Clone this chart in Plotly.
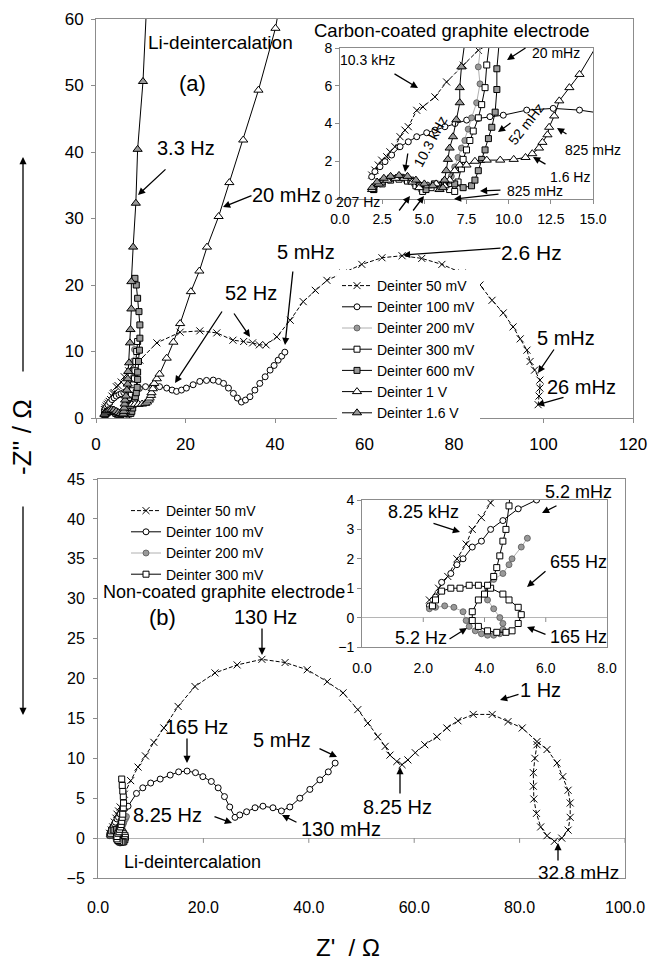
import plotly.graph_objects as go

W, H = 650, 964
FONT = "Liberation Sans, Arial, sans-serif"

# ---------------- Panel (a): carbon-coated graphite ----------------
A50_X = [1.88, 2.07, 2.27, 2.47, 2.77, 2.96, 3.26, 3.56, 3.85, 4.05, 4.55, 4.92, 5.63, 6.32, 7.31, 8.2,
         9.8, 13.6, 18.8, 23.2, 27.0, 30.6, 33.0, 35.0, 36.5, 38.0, 40.4, 43.4, 46.3, 49.0, 51.6, 55.2,
         59.4, 63.9, 68.4, 72.8, 77.3, 81.8, 85.8, 88.5, 91.0, 93.2, 94.8, 96.3, 97.0, 98.0, 99.2, 99.2,
         99.0, 98.8]
A50_Y = [1.27, 1.53, 1.8, 2.06, 2.24, 2.5, 2.77, 3.3, 3.65, 3.83, 4.7, 4.88, 5.41, 6.2, 7.09, 7.88,
         8.7, 11.3, 12.9, 13.1, 12.8, 11.7, 11.5, 11.3, 11.0, 11.0, 12.2, 14.7, 17.5, 19.2, 20.7, 21.8,
         23.1, 24.1, 24.4, 24.0, 23.1, 21.8, 20.0, 17.7, 15.8, 13.7, 11.9, 10.2, 8.5, 7.2, 5.7, 4.5,
         3.3, 2.0]

A100_X = [1.88, 2.07, 2.37, 2.67, 3.06, 3.56, 4.05, 4.55, 5.14, 5.63, 6.22, 6.82, 7.51, 8.2, 8.89, 9.68,
          11.07, 12.64, 14.2, 15.8, 17.0, 18.0, 19.1, 20.2, 21.7, 23.2, 24.7, 26.2, 27.4, 28.5, 29.6,
          30.7, 31.6, 32.5, 33.4, 34.4, 35.5, 36.6, 37.8, 38.9, 39.8, 40.7, 41.5, 42.2]
A100_Y = [1.18, 1.45, 1.71, 1.98, 2.33, 2.77, 3.03, 3.3, 3.51, 3.65, 3.83, 4.0, 4.18, 4.27, 4.36, 4.44,
          4.71, 4.8, 4.71, 4.5, 4.2, 4.0, 4.2, 4.5, 5.0, 5.5, 5.65, 5.7, 5.5, 5.2, 4.5,
          3.7, 3.0, 2.4, 2.7, 3.2, 4.2, 5.2, 6.2, 7.2, 7.9, 8.7, 9.3, 9.9]

A200_X = [2.0, 2.4, 2.9, 3.4, 3.9, 4.4, 4.8, 5.3, 5.8, 6.3, 6.6, 6.8, 7.0, 7.2, 7.4, 7.6, 7.8, 8.1, 8.3, 8.2,
          8.4, 8.6]
A200_Y = [0.5, 0.8, 1.0, 1.1, 1.0, 0.8, 0.5, 0.7, 0.8, 0.8, 1.2, 1.7, 2.2, 2.7, 3.1, 3.7, 4.3, 5.1, 6.1, 7.0,
          8.6, 10.3]

A300_X = [2.0, 2.5, 3.0, 3.5, 4.0, 4.5, 4.9, 5.4, 6.0, 6.5, 6.8, 7.0, 7.2, 7.3, 7.5, 7.7, 7.9, 8.2, 8.4, 8.6,
          8.7, 8.9, 9.1, 9.3]
A300_Y = [0.5, 0.8, 1.0, 1.05, 0.95, 0.7, 0.4, 0.6, 0.7, 0.5, 0.4, 0.9, 1.6, 2.1, 2.6, 3.1, 3.6, 4.3, 5.0, 5.9,
          7.1, 8.5, 10.0, 11.5]

A600_X = [2.0, 2.5, 3.0, 3.6, 4.2, 4.7, 5.1, 5.6, 6.2, 6.8, 7.3, 7.8, 8.0, 8.2, 8.4, 8.6, 8.8, 9.0, 9.2, 9.3,
          9.3, 9.5, 9.7, 9.8, 9.8, 9.6, 9.3, 9.0, 8.7]
A600_Y = [0.5, 0.9, 1.1, 1.15, 1.0, 0.7, 0.5, 0.8, 0.9, 0.8, 0.6, 0.7, 1.0, 1.5, 2.1, 2.6, 3.2, 3.8, 4.6, 5.8,
          6.9, 8.5, 10.2, 12.0, 14.0, 16.0, 18.0, 20.0, 21.0]

A1V_X = [1.9, 2.3, 2.8, 3.3, 3.8, 4.3, 4.7, 5.2, 5.7, 6.2, 6.5, 6.8, 7.1, 7.5, 8.0, 8.7, 9.5, 10.3, 11.0,
         11.4, 11.8, 12.0, 12.3, 12.4, 12.7, 13.0, 13.6, 14.2, 15.8, 17.3, 18.8, 21.2, 23.1, 24.8, 27.4,
         29.8, 32.9, 36.3, 40.1, 41.0]
A1V_Y = [0.5, 0.8, 1.0, 1.1, 1.1, 0.9, 0.6, 0.7, 0.8, 0.7, 1.0, 1.5, 1.8, 1.8, 2.0, 2.06, 2.06, 2.1, 2.2,
         2.4, 2.7, 3.0, 3.4, 3.8, 4.4, 5.2, 5.9, 6.6, 9.0, 11.4, 14.2, 19.0, 22.1, 25.7, 30.3,
         35.4, 41.8, 49.3, 58.6, 62.0]

A16V_X = [1.9, 2.2, 2.6, 3.0, 3.5, 4.0, 4.5, 5.0, 5.5, 5.9, 6.1, 6.2, 6.3, 6.4, 6.5, 6.7, 6.9, 7.1, 7.1, 7.2,
          7.4, 7.6, 7.7, 7.9, 7.9, 8.3, 8.9, 9.3, 10.5, 11.3]
A16V_Y = [0.6, 0.9, 1.1, 1.2, 1.25, 1.2, 1.0, 0.8, 0.7, 0.5, 0.6, 1.0, 1.5, 2.1, 2.7, 3.3, 4.2, 5.1, 5.9, 7.0,
          8.3, 11.3, 13.3, 16.4, 20.5, 25.7, 32.3, 40.4, 50.6, 62.0]

# ---------------- Panel (b): non-coated graphite ----------------
B50_X = [2.2, 2.5, 2.8, 3.1, 3.4, 3.6, 3.9, 4.2, 5.0, 6.2, 7.6, 9.0, 10.6, 12.5, 15.2, 18.4, 22.2, 26.4,
         31.1, 35.5, 39.7, 43.5, 46.5, 49.3, 51.2, 53.1, 54.5, 55.4, 56.7, 57.7, 58.8, 60.2, 62.0, 64.3,
         66.2, 68.3, 71.2, 74.8, 77.8, 80.5, 83.3, 85.2, 87.1, 88.2, 89.2, 89.6, 89.6, 89.2, 88.0, 86.6,
         85.2, 84.0, 83.2, 82.7, 82.6, 82.6, 82.9, 83.3]
B50_Y = [0.6, 1.0, 1.4, 2.0, 2.5, 3.0, 3.4, 3.9, 5.5, 7.2, 8.9, 10.3, 12.0, 13.8, 16.5, 19.0, 20.7, 21.7,
         22.4, 22.0, 21.1, 19.6, 18.2, 16.1, 14.4, 12.7, 11.5, 10.4, 9.6, 9.2, 9.8, 10.7, 11.7, 12.7,
         13.8, 14.7, 15.5, 15.5, 14.6, 13.8, 12.1, 11.1, 9.4, 7.7, 6.0, 4.4, 2.6, 1.0, 0.0, -0.4,
         0.3, 1.4, 3.1, 4.9, 6.5, 8.2, 10.0, 11.7]

B100_X = [2.2, 2.4, 2.6, 2.9, 3.1, 3.3, 3.6, 3.9, 4.2, 4.6, 5.1, 5.7, 7.3, 8.5, 10.0, 11.8, 13.7, 15.3, 16.9,
          18.5, 19.9, 21.5, 22.8, 24.0, 25.0, 26.0, 26.9, 28.2, 29.8, 31.3, 33.2, 34.8, 36.4, 38.3, 40.2,
          42.1, 43.7, 45.0]
B100_Y = [0.4, 0.7, 1.2, 1.5, 1.8, 2.0, 2.4, 2.6, 3.0, 3.3, 3.7, 4.0, 5.6, 6.3, 6.9, 7.4, 7.9, 8.3, 8.4,
          8.2, 7.7, 7.1, 6.3, 5.2, 3.9, 2.6, 2.9, 3.3, 3.8, 4.0, 3.8, 3.4, 3.9, 5.0, 6.1,
          7.3, 8.3, 9.4]

B200_X = [2.2, 2.4, 2.7, 3.0, 3.3, 3.4, 3.5, 3.7, 3.9, 4.1, 4.3, 4.5, 4.6, 4.6, 4.5, 4.3, 4.1, 4.0, 4.1, 4.3,
          4.6, 4.8, 4.9, 5.2, 5.4]
B200_Y = [0.3, 0.35, 0.4, 0.35, 0.2, -0.1, -0.3, -0.45, -0.55, -0.6, -0.6, -0.55, -0.4, -0.2, 0.0, 0.3, 0.6,
          0.8, 1.0, 1.3, 1.5, 1.8, 2.0, 2.4, 2.7]

B300_X = [2.3, 2.4, 2.6, 2.9, 3.2, 3.5, 3.8, 4.2, 4.6, 4.8, 5.1, 5.2, 5.1, 4.9, 4.7, 4.4, 4.1, 3.8, 3.6, 3.6,
          3.8, 4.0, 4.1, 4.3, 4.4, 4.5, 4.6, 4.7, 4.8, 4.85, 4.8, 4.7, 4.6, 4.5]
B300_Y = [0.4, 0.6, 0.9, 1.0, 1.0, 1.1, 1.1, 1.0, 0.8, 0.6, 0.35, 0.1, -0.2, -0.45, -0.5, -0.5, -0.45, -0.3,
          -0.1, 0.2, 0.6, 0.8, 1.1, 1.4, 1.7, 2.1, 2.6, 3.0, 3.8, 4.4, 5.2, 5.9, 6.6, 7.4]

# ---------------- Axis ticks ----------------
PA_XTICKS = [0, 20, 40, 60, 80, 100, 120]
PA_YTICKS = [0, 10, 20, 30, 40, 50, 60]
IA_XTICKS = [0, 2.5, 5, 7.5, 10, 12.5, 15]
IA_YTICKS = [0, 2, 4, 6, 8]
PB_XTICKS = [0, 20, 40, 60, 80, 100]
PB_YTICKS = [-5, 0, 5, 10, 15, 20, 25, 30, 35, 40, 45]
IB_XTICKS = [0, 2, 4, 6, 8]
IB_YTICKS = [-1, 0, 1, 2, 3, 4]

GRAY = "#999999"
BOX = "#8c8c8c"


def fx(px):
    return px / W


def fy(py):
    return 1 - py / H


STYLES_A = [
    ("Deinter 50 mV", A50_X, A50_Y, dict(symbol="x-thin", size=7, color="black", line=dict(width=1, color="black")),
     dict(color="black", width=1, dash="4px,2px")),
    ("Deinter 100 mV", A100_X, A100_Y, dict(symbol="circle", size=6, color="white", line=dict(width=1, color="black")),
     dict(color="black", width=1)),
    ("Deinter 200 mV", A200_X, A200_Y, dict(symbol="circle", size=6, color=GRAY, line=dict(width=0.8, color="#555")),
     dict(color="#b0b0b0", width=1)),
    ("Deinter 300 mV", A300_X, A300_Y, dict(symbol="square", size=6, color="white", line=dict(width=1, color="black")),
     dict(color="black", width=1)),
    ("Deinter 600 mV", A600_X, A600_Y, dict(symbol="square", size=6, color=GRAY, line=dict(width=1, color="black")),
     dict(color="black", width=1)),
    ("Deinter 1 V", A1V_X, A1V_Y, dict(symbol="triangle-up", size=8, color="white", line=dict(width=1, color="black")),
     dict(color="black", width=1)),
    ("Deinter 1.6 V", A16V_X, A16V_Y, dict(symbol="triangle-up", size=8, color=GRAY, line=dict(width=1, color="black")),
     dict(color="black", width=1)),
]

STYLES_B = [
    ("Deinter 50 mV", B50_X, B50_Y, STYLES_A[0][3], STYLES_A[0][4]),
    ("Deinter 100 mV", B100_X, B100_Y, STYLES_A[1][3], STYLES_A[1][4]),
    ("Deinter 200 mV", B200_X, B200_Y, STYLES_A[2][3], STYLES_A[2][4]),
    ("Deinter 300 mV", B300_X, B300_Y, STYLES_A[3][3], STYLES_A[3][4]),
]

fig = go.Figure()

for name, xs, ys, mk, ln in STYLES_A:
    fig.add_trace(go.Scatter(x=xs, y=ys, mode="lines+markers", name=name, marker=mk, line=ln,
                             xaxis="x", yaxis="y", legend="legend"))
for name, xs, ys, mk, ln in STYLES_A:
    fig.add_trace(go.Scatter(x=xs, y=ys, mode="lines+markers", name=name, marker=mk, line=ln,
                             xaxis="x2", yaxis="y2", showlegend=False))
for name, xs, ys, mk, ln in STYLES_B:
    fig.add_trace(go.Scatter(x=xs, y=ys, mode="lines+markers", name=name, marker=mk, line=ln,
                             xaxis="x3", yaxis="y3", legend="legend2"))
for name, xs, ys, mk, ln in STYLES_B:
    fig.add_trace(go.Scatter(x=xs, y=ys, mode="lines+markers", name=name, marker=mk, line=ln,
                             xaxis="x4", yaxis="y4", showlegend=False))


def axis(domain, rng, tv, size, fmt=None, anchor=None, **kw):
    d = dict(domain=domain, range=rng, tickvals=tv, showgrid=False, zeroline=False,
             showline=True, linecolor=BOX, linewidth=1, mirror=True, ticks="outside",
             ticklen=4, tickcolor=BOX, tickfont=dict(size=size, color="black", family=FONT),
             anchor=anchor, fixedrange=True, automargin=False)
    if fmt:
        d["tickformat"] = fmt
    d.update(kw)
    return d


fig.update_layout(
    width=W, height=H, autosize=False, margin=dict(l=0, r=0, t=0, b=0, pad=0, autoexpand=False),
    paper_bgcolor="white", plot_bgcolor="white",
    font=dict(family=FONT, color="black"),
    xaxis=axis([fx(96), fx(633)], [0, 120], PA_XTICKS, 17, anchor="y", ticklabelstandoff=7),
    yaxis=axis([fy(418), fy(19)], [0, 60], PA_YTICKS, 17, anchor="x", ticklabelstandoff=4),
    xaxis2=axis([fx(340), fx(593)], [0, 15], IA_XTICKS, 14, fmt=".1f", anchor="y2", ticklabelstandoff=3),
    yaxis2=axis([fy(199), fy(48)], [0, 8], IA_YTICKS, 14, anchor="x2"),
    xaxis3=axis([fx(98), fx(625)], [0, 100], PB_XTICKS, 16, fmt=".1f", anchor="y3", ticks="",
                ticklabelstandoff=15),
    yaxis3=axis([fy(878), fy(479)], [-5, 45], PB_YTICKS, 16, anchor="x3", ticklabelstandoff=5,
                zeroline=True, zerolinecolor="#b5b5b5", zerolinewidth=1),
    xaxis4=axis([fx(362), fx(607)], [0, 8], IB_XTICKS, 14, fmt=".1f", anchor="y4", ticks="",
                ticklabelstandoff=8),
    yaxis4=axis([fy(647), fy(500)], [-1, 4], IB_YTICKS, 14, anchor="x4",
                zeroline=True, zerolinecolor="#b5b5b5", zerolinewidth=1),
    legend=dict(x=fx(337), y=fy(270), xanchor="left", yanchor="top", bgcolor="white",
                font=dict(size=14, family=FONT), tracegroupgap=0, itemwidth=30),
    legend2=dict(x=fx(126), y=fy(495), xanchor="left", yanchor="top", bgcolor="rgba(0,0,0,0)",
                 font=dict(size=14, family=FONT), tracegroupgap=0, itemwidth=30),
    showlegend=True,
)

# tick marks on the zero lines of panel (b) and its inset
for t in PB_XTICKS[1:]:
    fig.add_shape(type="line", xref="x3", yref="y3", x0=t, x1=t, y0=0, y1=-0.6,
                  line=dict(color=BOX, width=1))
for t in IB_XTICKS[1:-1]:
    fig.add_shape(type="line", xref="x4", yref="y4", x0=t, x1=t, y0=0, y1=-0.15,
                  line=dict(color=BOX, width=1))

ann = []


def label(text, px, py, size, angle=0):
    ann.append(dict(text=text, x=fx(px), y=fy(py), xref="paper", yref="paper", showarrow=False,
                    xanchor="center", yanchor="middle",
                    font=dict(size=size, family=FONT, color="black"), textangle=angle))


def arrow(tip, tail):
    ann.append(dict(text="", x=fx(tip[0]), y=fy(tip[1]), xref="paper", yref="paper", showarrow=True,
                    ax=tail[0] - tip[0], ay=tail[1] - tip[1], axref="pixel", ayref="pixel",
                    arrowhead=2, arrowsize=1.1, arrowwidth=1.3, arrowcolor="black",
                    standoff=0, startstandoff=0))


# panel (a)
label("Li-deintercalation", 220, 43, 19)
label("(a)", 192, 83, 22)
label("3.3 Hz", 186, 148, 20)
arrow((138, 195), (167, 168))
label("20 mHz", 286, 195, 20)
arrow((223, 207), (253, 195))
label("52 Hz", 251, 293, 20)
arrow((175, 383), (223, 310))
arrow((250, 337), (233, 312))
label("5 mHz", 306, 252, 20)
arrow((285, 345), (293, 270))
label("2.6 Hz", 531, 253, 21)
arrow((403, 255), (502, 248))
label("5 mHz", 566, 338, 20)
arrow((538, 373), (555, 348))
label("26 mHz", 581, 387, 20)
arrow((537, 405), (565, 397))

# inset (a)
label("Carbon-coated graphite electrode", 452, 31, 18.5)
label("10.3 kHz", 367, 60, 14)
arrow((418, 88), (393, 73))
label("10.3 kHz", 430, 142, 14, angle=-62)
arrow((405, 172), (408, 152))
label("20 mHz", 556, 53, 14)
arrow((507, 60), (527, 47))
label("52 mHz", 526, 124, 14, angle=-52)
arrow((498, 132), (512, 122))
label("825 mHz", 593, 150, 14)
arrow((557, 128), (568, 135))
label("1.6 Hz", 570, 177, 14)
arrow((533, 157), (547, 165))
label("825 mHz", 535, 191, 14)
arrow((480, 191), (502, 190))
arrow((454, 199), (500, 194))
label("207 Hz", 358, 202, 14)
arrow((410, 196), (398, 212))
arrow((424, 196), (412, 212))

# panel (b)
label("Non-coated graphite electrode", 224, 592, 18)
label("(b)", 163, 617, 22)
label("130 Hz", 265, 617, 20)
arrow((262, 655), (262, 627))
label("165 Hz", 196, 727, 20)
arrow((187, 763), (187, 737))
label("5 mHz", 282, 740, 20)
arrow((337, 757), (318, 748))
label("8.25 Hz", 167, 815, 20)
arrow((232, 823), (213, 816))
label("130 mHz", 341, 829, 20)
arrow((282, 815), (298, 823))
label("8.25 Hz", 397, 807, 20)
arrow((400, 767), (400, 795))
label("1 Hz", 540, 690, 20)
arrow((500, 700), (520, 694))
label("32.8 mHz", 578, 872, 19)
arrow((558, 843), (558, 862))
label("Li-deintercalation", 192, 862, 18)

# inset (b)
label("8.25 kHz", 423, 512, 18)
arrow((460, 532), (432, 523))
label("5.2 mHz", 578, 492, 18)
arrow((542, 513), (558, 505))
label("655 Hz", 578, 562, 18)
arrow((527, 587), (547, 570))
label("5.2 Hz", 421, 638, 18)
arrow((467, 628), (448, 640))
label("165 Hz", 578, 637, 18)
arrow((527, 627), (547, 635))

# global axis titles
label("-Z'' / \u03a9", 22, 437, 26, angle=-90)
arrow((23, 157), (23, 373))
arrow((23, 715), (23, 505))
label("Z'  / \u03a9", 348, 947, 24)

fig.update_layout(annotations=ann)

POST = ("document.documentElement.style.margin='0';document.body.style.margin='0';"
        "document.body.style.padding='0';document.body.style.overflow='hidden';"
        "document.documentElement.style.overflow='hidden';"
        "Plotly.relayout('{plot_id}', {autosize: false, width: 650, height: 964});")

fig.write_html("out.html", config={"responsive": False}, post_script=POST)
